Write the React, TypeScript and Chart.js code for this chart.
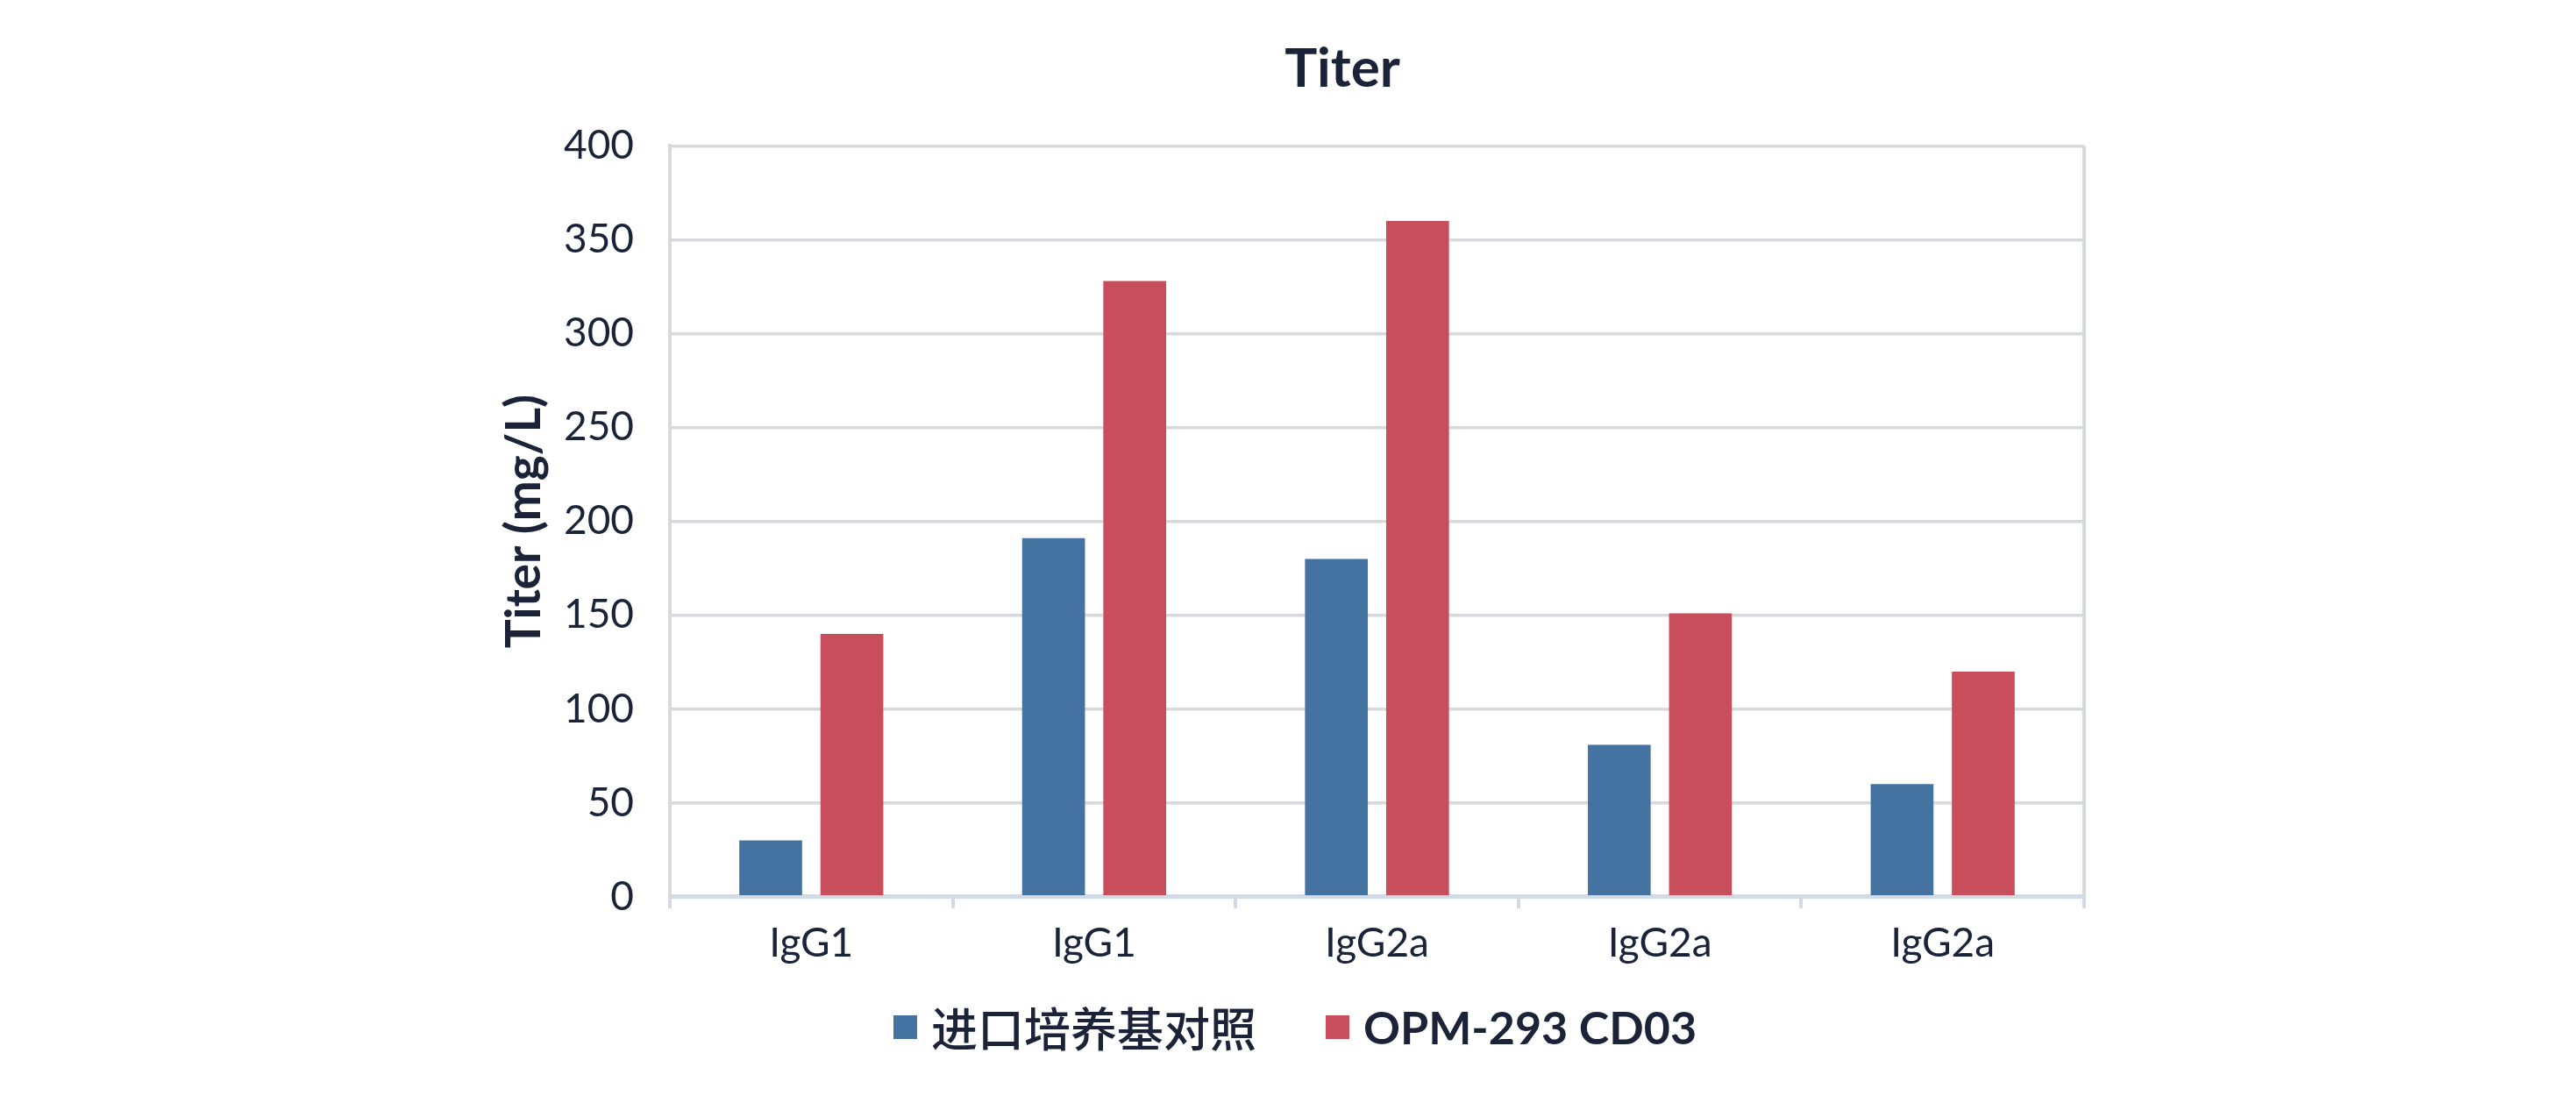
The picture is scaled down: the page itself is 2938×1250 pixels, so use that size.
import React, { useEffect, useRef } from "react";
import { Chart, registerables } from "chart.js";

Chart.register(...registerables);

const categories = ["IgG1", "IgG1", "IgG2a", "IgG2a", "IgG2a"];
const importedMedium = [30, 191, 180, 81, 60];
const opm293 = [140, 328, 360, 151, 120];
const seriesNames = ["进口培养基对照", "OPM-293 CD03"];
const yMin = 0;
const yMax = 400;
const yStep = 50;

const TEXT = "#1b2338";
const BLUE = "#4573a1";
const RED = "#c94e5c";
const GRID = "#d7d9dc";
const AXIS = "#d4d9e6";
const FONT = "Lato, 'Noto Sans CJK SC', sans-serif";

export default function App() {
  const ref = useRef<HTMLCanvasElement | null>(null);

  useEffect(() => {
    if (!ref.current) return;
    const chart = new Chart(ref.current, {
      type: "bar",
      data: {
        labels: categories,
        datasets: [
          {
            label: seriesNames[0],
            data: importedMedium,
            backgroundColor: BLUE,
            categoryPercentage: 0.574,
            barPercentage: 0.774,
          },
          {
            label: seriesNames[1],
            data: opm293,
            backgroundColor: RED,
            categoryPercentage: 0.574,
            barPercentage: 0.774,
          },
        ],
      },
      options: {
        animation: false,
        responsive: true,
        maintainAspectRatio: false,
        devicePixelRatio: 1,
        layout: { padding: { left: 565, right: 441, top: 0, bottom: 133 } },
        plugins: {
          legend: { display: false },
          tooltip: { enabled: false },
          title: {
            display: true,
            text: "Titer",
            color: TEXT,
            font: { family: FONT, size: 62, weight: "bold" },
            padding: { top: 42, bottom: 50 },
          },
        },
        scales: {
          x: {
            offset: true,
            grid: {
              offset: true,
              drawOnChartArea: true,
              color: (ctx: any) =>
                ctx.index === undefined || ctx.index === 0 ? GRID : "rgba(0,0,0,0)",
              tickColor: AXIS,
              lineWidth: 4,
              tickLength: 13,
            },
            border: { color: AXIS, width: 5 },
            ticks: {
              color: TEXT,
              font: { family: FONT, size: 46 },
              padding: 13,
            },
          },
          y: {
            min: yMin,
            max: yMax,
            ticks: {
              stepSize: yStep,
              color: TEXT,
              font: { family: FONT, size: 46 },
              padding: 41,
            },
            grid: { color: GRID, lineWidth: 3.4, drawTicks: false },
            border: { color: GRID, width: 4 },
            title: {
              display: true,
              text: "Titer (mg/L)",
              color: TEXT,
              font: { family: FONT, size: 55, weight: "bold" },
              padding: 0,
            },
            afterFit: (scale: any) => {
              scale.width = 199;
            },
          },
          yRight: {
            position: "right",
            display: true,
            grid: { display: false, drawTicks: false },
            border: { display: false },
            ticks: { display: false },
            afterFit: (scale: any) => {
              scale.width = 120;
            },
          },
        },
      },
    });
    return () => chart.destroy();
  }, []);

  const legendItem = (color: string, text: string, font: React.CSSProperties) => (
    <div style={{ display: "flex", alignItems: "center" }}>
      <div style={{ width: 27, height: 27, background: color, marginRight: 16 }} />
      <span style={{ color: TEXT, lineHeight: 1, whiteSpace: "nowrap", ...font }}>{text}</span>
    </div>
  );

  return (
    <div style={{ position: "fixed", left: 0, top: 0, width: 2938, height: 1250, background: "#fff" }}>
      <div style={{ position: "absolute", left: 0, top: 0, width: 2938, height: 1250 }}>
        <canvas ref={ref} />
      </div>
      <div
        style={{
          position: "absolute",
          left: 1019,
          top: 1143,
          height: 56,
          display: "flex",
          alignItems: "center",
          gap: 79,
        }}
      >
        {legendItem(BLUE, seriesNames[0], {
          fontFamily: "'Noto Sans CJK SC', sans-serif",
          fontSize: 53,
          fontWeight: 500,
        })}
        {legendItem(RED, seriesNames[1], {
          fontFamily: FONT,
          fontSize: 52,
          fontWeight: 700,
        })}
      </div>
    </div>
  );
}
